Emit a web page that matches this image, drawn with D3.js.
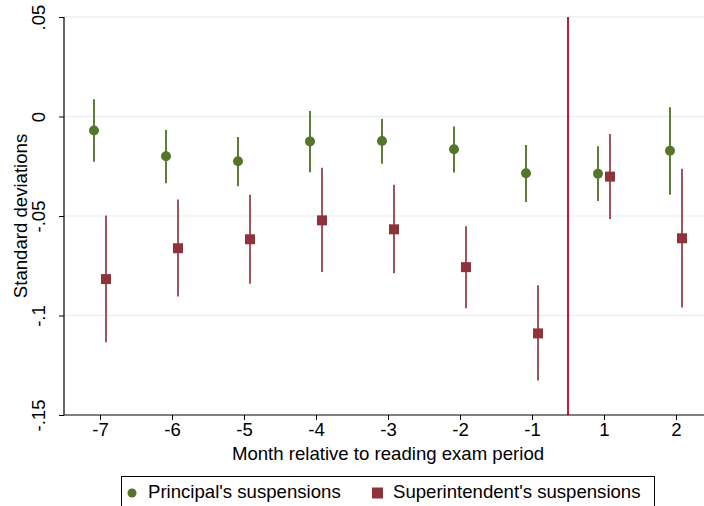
<html>
<head>
<script src="https://d3js.org/d3.v7.min.js"></script>
<style>
body { margin: 0; background: #fff; font-family: 'Liberation Sans', Arial, sans-serif; }
svg { display: block; }
</style>
</head>
<body>
<svg width="704" height="506"></svg>
<script>
// months relative to the reading exam period
var months = ["-7", "-6", "-5", "-4", "-3", "-2", "-1", "1", "2"];

// principal's suspensions: estimate, lower and upper CI
var princEst = [-0.007, -0.020, -0.0225, -0.0125, -0.0123, -0.0165, -0.0285, -0.0288, -0.0172];
var princLo  = [-0.0228, -0.0335, -0.035, -0.028, -0.0237, -0.0282, -0.043, -0.0425, -0.0393];
var princHi  = [0.0087, -0.0068, -0.0103, 0.0028, -0.0012, -0.005, -0.0143, -0.015, 0.0047];

// superintendent's suspensions
var supEst = [-0.0817, -0.0662, -0.0617, -0.0522, -0.0567, -0.0757, -0.109, -0.0302, -0.0612];
var supLo  = [-0.1135, -0.0905, -0.084, -0.0782, -0.0788, -0.0963, -0.1327, -0.0515, -0.096];
var supHi  = [-0.0497, -0.0417, -0.0393, -0.0258, -0.0343, -0.0552, -0.0848, -0.0088, -0.0263];

var yTicks = [0.05, 0, -0.05, -0.1, -0.15];
var yTickLabels = [".05", "0", "-.05", "-.1", "-.15"];

var svg = d3.select("svg");
var fs = 18.6;
var plotL = 64, plotR = 712, plotT = 17, plotB = 415;

var x = d3.scalePoint().domain(months).range([plotL, plotR]).padding(0.5);
var y = d3.scaleLinear().domain([-0.15, 0.05]).range([plotB, plotT]);

// gridlines
svg.selectAll("line.grid").data(yTicks.slice(0, 4)).enter().append("line")
  .attr("x1", plotL).attr("x2", 704)
  .attr("y1", function(d) { return y(d); }).attr("y2", function(d) { return y(d); })
  .attr("stroke", "#eaf0f3").attr("stroke-width", 1.5);

// exam line between -1 and 1
var exX = (x("-1") + x("1")) / 2;
svg.append("line").attr("x1", exX).attr("x2", exX).attr("y1", plotT).attr("y2", plotB)
  .attr("stroke", "#c8163c").attr("stroke-width", 2);

// axes
var yAxis = d3.axisLeft(y).tickValues(yTicks).tickSize(5)
  .tickFormat(function(d, i) { return yTickLabels[i]; });
var gy = svg.append("g").attr("transform", "translate(" + plotL + ",0)").call(yAxis);
gy.select(".domain").attr("stroke", "#000").attr("stroke-width", 1.2).attr("d", "M0," + plotT + "V" + plotB);
gy.selectAll(".tick line").attr("stroke", "#000");
gy.selectAll(".tick text")
  .attr("font-size", fs).attr("font-family", "'Liberation Sans', Arial, sans-serif").attr("fill", "#000")
  .attr("text-anchor", "middle").attr("x", 0).attr("dy", 0)
  .attr("transform", "translate(-19.5,0) rotate(-90)");

var xAxis = d3.axisBottom(x).tickSize(5);
var gx = svg.append("g").attr("transform", "translate(0," + plotB + ")").call(xAxis);
gx.select(".domain").attr("stroke", "#000").attr("stroke-width", 1.2).attr("d", "M" + plotL + ",0H704");
gx.selectAll(".tick line").attr("stroke", "#000");
gx.selectAll(".tick text")
  .attr("font-size", fs).attr("font-family", "'Liberation Sans', Arial, sans-serif").attr("fill", "#000")
  .attr("y", 8);

// axis titles
svg.append("text").attr("x", 388).attr("y", 460).attr("text-anchor", "middle")
  .attr("font-size", fs).text("Month relative to reading exam period");
svg.append("text").attr("transform", "translate(27,216) rotate(-90)").attr("text-anchor", "middle")
  .attr("font-size", fs).text("Standard deviations");

var off = 6;
// confidence intervals
var ci = svg.append("g");
ci.selectAll("line.p").data(months).enter().append("line")
  .attr("x1", function(d) { return x(d) - off; }).attr("x2", function(d) { return x(d) - off; })
  .attr("y1", function(d, i) { return y(princLo[i]); }).attr("y2", function(d, i) { return y(princHi[i]); })
  .attr("stroke", "#5d7d38").attr("stroke-width", 2);
ci.selectAll("line.s").data(months).enter().append("line")
  .attr("x1", function(d) { return x(d) + off; }).attr("x2", function(d) { return x(d) + off; })
  .attr("y1", function(d, i) { return y(supLo[i]); }).attr("y2", function(d, i) { return y(supHi[i]); })
  .attr("stroke", "#a5525a").attr("stroke-width", 2);

// point estimates
svg.selectAll("circle.p").data(months).enter().append("circle")
  .attr("cx", function(d) { return x(d) - off; })
  .attr("cy", function(d, i) { return y(princEst[i]); })
  .attr("r", 5).attr("fill", "#55752b");
svg.selectAll("rect.s").data(months).enter().append("rect")
  .attr("x", function(d) { return x(d) + off - 5; })
  .attr("y", function(d, i) { return y(supEst[i]) - 5; })
  .attr("width", 10).attr("height", 10).attr("fill", "#90323a");

// legend
var lg = svg.append("g");
lg.append("rect").attr("x", 121.5).attr("y", 476.5).attr("width", 533).attr("height", 40)
  .attr("fill", "#fff").attr("stroke", "#000").attr("stroke-width", 1);
lg.append("circle").attr("cx", 132).attr("cy", 493).attr("r", 4.5).attr("fill", "#55752b");
lg.append("text").attr("x", 148).attr("y", 498).attr("font-size", fs).text("Principal's suspensions");
lg.append("rect").attr("x", 372).attr("y", 487.5).attr("width", 11).attr("height", 11).attr("fill", "#90323a");
lg.append("text").attr("x", 393).attr("y", 498).attr("font-size", fs).text("Superintendent's suspensions");
</script>
</body>
</html>
